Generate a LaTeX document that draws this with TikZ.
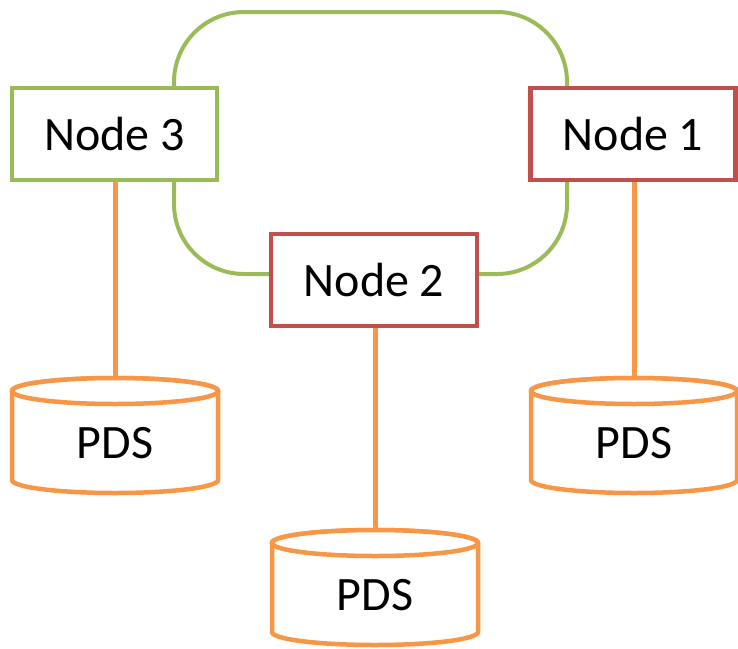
\documentclass[tikz,border=0pt]{standalone}
\usepackage{fontspec}
\setmainfont{Carlito}
\definecolor{ringgreen}{HTML}{9BBB59}
\definecolor{nodered}{HTML}{C0504D}
\definecolor{storeorange}{HTML}{F79646}
\tikzset{
  labeltext/.style={font=\fontsize{48}{58}\selectfont, text=black},
  hostbox/.style={labeltext, draw=#1, line width=4.5pt, fill=white,
    minimum width=205pt, minimum height=92pt, inner sep=0pt},
  ring/.style={draw=ringgreen, line width=4pt},
  link/.style={draw=storeorange, line width=5pt},
  drum/.style={draw=storeorange, line width=4.5pt, fill=white},
}
% storage drum: centre x, top ellipse y, bottom ellipse y, name
\newcommand{\pdsdrum}[4]{%
  \path[drum] (#1-103,#2) -- (#1-103,#3)
    arc[start angle=180, end angle=0, x radius=103, y radius=13]
    -- (#1+103,#2) arc[start angle=0, end angle=-180, x radius=103, y radius=13];
  \draw[drum] (#1,#2) ellipse[x radius=103, y radius=13];
  \coordinate (#4top) at (#1,#2-13);
  \node[labeltext] (#4) at (#1,{(#2+#3)/2+8}) {PDS};
}
\begin{document}
\begin{tikzpicture}[x=1pt, y=-1pt]
  \useasboundingbox (0,0) rectangle (738,648);
  % ring connecting the hosts
  \draw[ring, rounded corners=70pt] (174,12) rectangle (567,274);
  % hosts
  \node[hostbox=ringgreen] (n3) at (114.5,134) {Node 3};
  \node[hostbox=nodered] (n1) at (633,134) {Node 1};
  \node[hostbox=nodered, minimum width=206pt] (n2) at (374,280) {Node 2};
  % storage
  \pdsdrum{115}{391}{480}{d3}
  \pdsdrum{634}{391}{480}{d1}
  \pdsdrum{375}{543}{632}{d2}
  % links from hosts to storage
  \draw[link] ([xshift=0.5pt]n3.south) -- (d3top);
  \draw[link] ([xshift=1pt]n1.south) -- (d1top);
  \draw[link] ([xshift=1pt]n2.south) -- (d2top);
\end{tikzpicture}
\end{document}
